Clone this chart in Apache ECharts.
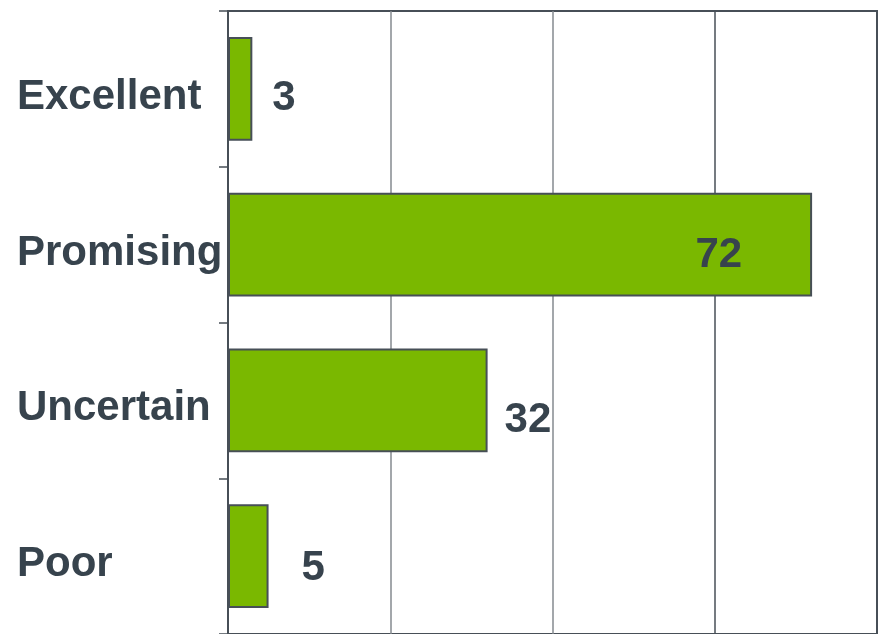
<!DOCTYPE html>
<html>
<head>
<meta charset="utf-8">
<script src="https://cdn.jsdelivr.net/npm/echarts@6/dist/echarts.min.js"></script>
<style>
	html, body { margin: 0; padding: 0; background: #fff; }
	#main { width: 880px; height: 634px; }
</style>
</head>
<body>
<div id="main"></div>
<script>
// data
const categories = ['Excellent', 'Promising', 'Uncertain', 'Poor']
const values = [3, 72, 32, 5]

const textColor = '#37434d'
const dark = '#474f57'
const font = 'Arial, "Liberation Sans", sans-serif'

// label placement tweaks, one per bar
const labelStyles = [
	{ position: 'right', distance: 20, offset: [0, 10] },
	{ position: 'insideRight', distance: 70, offset: [0, 11] },
	{ position: 'right', distance: 17, offset: [0, 20] },
	{ position: 'right', distance: 33, offset: [0, 12] }
]

const myChart = echarts.init(document.getElementById('main'))

myChart.setOption({
	animation: false,
	grid: {
		left: 228,
		right: 3,
		top: 11,
		height: 624,
		show: true,
		borderColor: dark,
		borderWidth: 2
	},
	xAxis: {
		type: 'value',
		min: 0,
		max: 80,
		interval: 20,
		axisLine: { show: false },
		axisTick: { show: false },
		axisLabel: { show: false },
		splitLine: {
			lineStyle: {
				color: [dark, '#858a8f', '#858a8f', dark, dark],
				width: 1.5
			}
		}
	},
	yAxis: {
		type: 'category',
		inverse: true,
		data: categories,
		axisLine: { show: true, lineStyle: { color: dark, width: 2 } },
		axisTick: { show: true, inside: false, length: 9, lineStyle: { color: dark, width: 1.5 } },
		axisLabel: {
			align: 'left',
			margin: 211,
			formatter: '{a|{value}}',
			rich: {
				a: {
					padding: [17, 0, 0, 0],
					color: textColor,
					fontSize: 42,
					fontWeight: 'bold',
					fontFamily: font
				}
			}
		}
	},
	series: [
		{
			type: 'bar',
			barCategoryGap: '33.4%',
			itemStyle: {
				color: '#7ab800',
				borderColor: dark,
				borderWidth: 2
			},
			label: {
				show: true,
				color: textColor,
				fontSize: 42,
				fontWeight: 'bold',
				fontFamily: font
			},
			data: values.map((v, i) => ({ value: v, label: labelStyles[i] }))
		}
	]
})
</script>
</body>
</html>
